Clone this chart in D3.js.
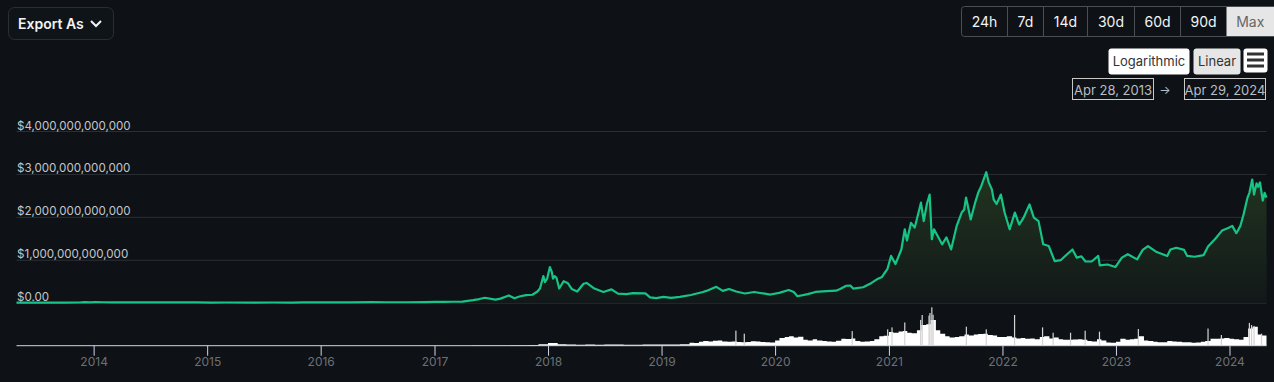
<!DOCTYPE html>
<html><head><meta charset="utf-8">
<script src="https://cdn.jsdelivr.net/npm/d3@7"></script>
<style>
html,body{margin:0;padding:0;background:#0e1216;}
svg{display:block;font-family:Inter,"Noto Sans",sans-serif;}
</style></head>
<body>
<svg id="c" width="1274" height="382"></svg>
<script>
// ---------- DATA ----------
const capDates = ["2013-04-28","2013-06-01","2013-08-01","2013-10-01","2013-11-15","2013-12-04","2013-12-20","2014-01-05","2014-02-01","2014-03-01","2014-04-15","2014-06-01","2014-08-01","2014-10-01","2014-12-01","2015-01-15","2015-03-01","2015-06-01","2015-08-01","2015-10-01","2015-11-05","2015-12-15","2016-02-01","2016-04-01","2016-06-15","2016-08-01","2016-10-01","2016-12-01","2017-01-01","2017-02-01","2017-03-01","2017-04-01","2017-05-05","2017-05-25","2017-06-12","2017-07-16","2017-08-01","2017-08-28","2017-09-15","2017-10-01","2017-10-22","2017-11-12","2017-11-28","2017-12-06","2017-12-17","2017-12-22","2017-12-29","2018-01-07","2018-01-13","2018-01-17","2018-01-22","2018-01-28","2018-02-06","2018-02-20","2018-03-05","2018-03-18","2018-04-05","2018-04-25","2018-05-05","2018-05-30","2018-06-28","2018-07-24","2018-08-14","2018-09-10","2018-10-01","2018-11-10","2018-11-25","2018-12-15","2019-01-07","2019-02-01","2019-03-01","2019-04-05","2019-05-14","2019-05-25","2019-06-26","2019-07-17","2019-08-06","2019-08-29","2019-09-26","2019-10-26","2019-12-17","2020-01-14","2020-02-14","2020-03-01","2020-03-13","2020-04-15","2020-05-10","2020-06-15","2020-07-15","2020-07-28","2020-08-17","2020-08-30","2020-09-08","2020-10-10","2020-11-06","2020-11-27","2020-12-10","2020-12-17","2020-12-27","2021-01-08","2021-01-22","2021-02-10","2021-02-21","2021-02-28","2021-03-13","2021-03-25","2021-04-01","2021-04-14","2021-04-23","2021-05-03","2021-05-12","2021-05-19","2021-05-26","2021-06-21","2021-07-05","2021-07-20","2021-08-07","2021-08-23","2021-08-31","2021-09-06","2021-09-21","2021-10-06","2021-10-15","2021-10-25","2021-11-10","2021-11-18","2021-11-28","2021-12-04","2021-12-13","2021-12-27","2022-01-08","2022-01-24","2022-02-10","2022-02-24","2022-03-10","2022-03-29","2022-04-12","2022-04-27","2022-05-12","2022-05-30","2022-06-18","2022-07-07","2022-07-28","2022-08-14","2022-08-28","2022-09-12","2022-09-25","2022-10-15","2022-11-05","2022-11-10","2022-12-05","2022-12-30","2023-01-20","2023-02-08","2023-03-10","2023-03-28","2023-04-14","2023-05-12","2023-06-15","2023-06-25","2023-07-14","2023-08-08","2023-08-18","2023-09-11","2023-10-10","2023-10-24","2023-11-15","2023-12-08","2023-12-28","2024-01-10","2024-01-23","2024-02-05","2024-02-15","2024-02-28","2024-03-05","2024-03-14","2024-03-20","2024-03-28","2024-04-02","2024-04-08","2024-04-17","2024-04-23","2024-04-29"];
// total market cap, billions USD
const capValues = [1.6,1.4,1.2,1.7,5,15,8,12,11,8,6,8,7.5,5.5,5.3,3.5,4.2,3.8,4.3,3.9,6.5,6.8,6.8,7.6,12.5,10.5,11,12.5,17.7,18.5,22,25,60,85,115,70,95,170,105,145,175,185,260,330,620,480,560,830,720,560,620,580,330,500,460,320,260,440,460,330,250,310,210,200,225,215,125,105,135,112,135,180,250,275,370,275,320,260,215,250,190,230,295,250,150,200,250,270,280,320,395,400,330,360,460,560,600,680,780,1090,900,1240,1710,1450,1860,1750,1950,2330,1900,2300,2520,1480,1710,1360,1520,1240,1790,2100,2170,2450,1940,2350,2560,2720,3040,2800,2640,2400,2300,2520,2100,1710,2100,1820,1980,2290,1980,1900,1360,1320,970,990,1130,1240,1050,1080,960,960,1090,870,890,830,1050,1130,1010,1230,1320,1180,1090,1240,1280,1230,1090,1070,1110,1310,1480,1680,1740,1790,1620,1790,2050,2450,2560,2870,2520,2780,2700,2800,2380,2560,2450];

const volDates = ["2013-04-28","2013-10-01","2013-12-01","2014-03-01","2014-06-01","2015-01-01","2015-08-01","2016-01-01","2016-06-01","2016-12-01","2017-01-01","2017-03-01","2017-05-01","2017-06-01","2017-08-01","2017-09-01","2017-11-01","2017-12-01","2018-01-01","2018-02-01","2018-03-01","2018-04-01","2018-05-01","2018-06-01","2018-07-01","2018-08-01","2018-09-01","2018-10-01","2018-11-01","2018-12-01","2019-01-01","2019-02-01","2019-03-01","2019-04-01","2019-04-15","2019-05-01","2019-05-15","2019-06-01","2019-06-15","2019-07-01","2019-07-15","2019-08-01","2019-08-15","2019-09-01","2019-09-15","2019-10-01","2019-10-15","2019-11-01","2019-11-15","2019-12-01","2019-12-15","2020-01-01","2020-01-15","2020-02-01","2020-02-15","2020-03-01","2020-03-15","2020-04-01","2020-04-15","2020-05-01","2020-05-15","2020-06-01","2020-06-15","2020-07-01","2020-07-15","2020-08-01","2020-08-15","2020-09-01","2020-09-15","2020-10-01","2020-10-15","2020-11-01","2020-11-15","2020-12-01","2020-12-15","2021-01-01","2021-01-15","2021-02-01","2021-02-15","2021-03-01","2021-03-15","2021-04-01","2021-04-15","2021-05-01","2021-05-15","2021-06-01","2021-06-15","2021-07-01","2021-07-15","2021-08-01","2021-08-15","2021-09-01","2021-09-15","2021-10-01","2021-10-15","2021-11-01","2021-11-15","2021-12-01","2021-12-15","2022-01-01","2022-01-15","2022-02-01","2022-02-15","2022-03-01","2022-03-15","2022-04-01","2022-04-15","2022-05-01","2022-05-15","2022-06-01","2022-06-15","2022-07-01","2022-07-15","2022-08-01","2022-08-15","2022-09-01","2022-09-15","2022-10-01","2022-10-15","2022-11-01","2022-11-15","2022-12-01","2022-12-15","2023-01-01","2023-01-15","2023-02-01","2023-02-15","2023-03-01","2023-03-15","2023-04-01","2023-04-15","2023-05-01","2023-05-15","2023-06-01","2023-06-15","2023-07-01","2023-07-15","2023-08-01","2023-08-15","2023-09-01","2023-09-15","2023-10-01","2023-10-15","2023-11-01","2023-11-15","2023-12-01","2023-12-15","2024-01-01","2024-01-15","2024-02-01","2024-02-15","2024-03-01","2024-03-15","2024-04-01","2024-04-15"];
// total volume, billions USD
const volValues = [0.05,0.1,0.4,0.1,0.05,0.05,0.05,0.1,0.2,0.2,0.4,0.5,1.5,3,3,5,8,18,30,18,14,12,13,11,13,13,12,11,14,13,13,15,18,35,30,45,55,50,58,60,50,45,48,42,40,42,52,48,42,40,38,60,90,100,110,95,105,70,60,75,60,55,50,45,58,80,78,85,55,45,48,55,75,110,115,160,150,165,170,150,145,180,240,250,300,180,140,110,95,100,110,130,120,130,135,140,125,120,100,100,110,95,85,90,80,85,75,100,110,85,95,75,70,70,72,75,70,55,50,75,60,38,35,45,80,70,75,80,110,60,55,45,40,40,55,50,45,40,40,35,38,45,55,80,80,85,90,80,75,70,100,200,220,130,120];

const spikeDates = ["2019-08-28","2019-09-24","2020-09-05","2020-12-28","2021-01-11","2021-02-21","2021-04-13","2021-04-18","2021-05-10","2021-05-13","2021-05-19","2021-05-23","2021-09-07","2021-11-10","2022-02-09","2022-05-10","2022-06-13","2022-08-08","2022-09-24","2022-11-09","2023-03-14","2023-10-24","2023-12-06","2024-03-05","2024-03-12","2024-03-20","2024-04-13"];
const spikeValues = [175,140,170,190,213,270,300,357,350,380,446,360,221,190,357,213,151,151,174,163,194,200,124,265,240,230,140];

const yTicks = [0,1000,2000,3000,4000];
const yTickLabels = ["$0.00","$1,000,000,000,000","$2,000,000,000,000","$3,000,000,000,000","$4,000,000,000,000"];
const xTickYears = [2014,2015,2016,2017,2018,2019,2020,2021,2022,2023,2024];
const rangeButtons = ["24h","7d","14d","30d","60d","90d","Max"];
const scaleButtons = ["Logarithmic","Linear"];
const dateRange = ["Apr 28, 2013","Apr 29, 2024"];

// ---------- SETUP ----------
const toUTC = s => new Date(s + "T00:00:00Z");
const endDate = toUTC("2024-04-29");
const svg = d3.select("#c");
const left = 16.5, right = 1266.5;
const x = d3.scaleUtc().domain([toUTC("2013-04-28"), endDate]).range([left, right]);
const y = d3.scaleLinear().domain([0, 4000]).range([302.7, 131]);
const yv = d3.scaleLinear().domain([0, 500]).range([345.7, 302.7]);

const cap = capDates.map((d,i)=>({d:toUTC(d), v:capValues[i]}));
const vol = volDates.map((d,i)=>({d:toUTC(d), v:volValues[i]}));
vol.push({d:endDate, v:volValues[volValues.length-1]});
const spikes = spikeDates.map((d,i)=>({d:toUTC(d), v:spikeValues[i]}));

// gradient
const defs = svg.append("defs");
const grad = defs.append("linearGradient").attr("id","ag").attr("gradientUnits","userSpaceOnUse")
  .attr("x1",0).attr("x2",0).attr("y1",170).attr("y2",303);
grad.append("stop").attr("offset",0).attr("stop-color","#223520");
grad.append("stop").attr("offset",1).attr("stop-color","#121819");

// y grid + labels
const yAxis = d3.axisRight(y).tickValues(yTicks).tickSize(right-left)
  .tickFormat((d,i)=>yTickLabels[i]);
const gy = svg.append("g").attr("transform",`translate(${left},0)`).call(yAxis);
gy.select(".domain").remove();
gy.selectAll(".tick line").attr("stroke","#2b2f35").attr("stroke-width",1);
gy.selectAll(".tick text").attr("x",0.5).attr("dy","-2").attr("text-anchor","start")
  .attr("fill","#c3c7cc").style("font-size","11.6px").style("font-family","Inter");

// area + line
const area = d3.area().x(d=>x(d.d)).y0(y(0)).y1(d=>y(d.v));
svg.append("path").datum(cap).attr("d",area).attr("fill","url(#ag)");
const line = d3.line().x(d=>x(d.d)).y(d=>y(d.v));
svg.append("path").datum(cap).attr("d",line).attr("fill","none").attr("stroke","#17c486")
  .attr("stroke-width",2.2).attr("stroke-linejoin","round");

// volume (daily-bar look as stepped area)
const varea = d3.area().curve(d3.curveStepAfter).x(d=>x(d.d)).y0(yv(0)).y1(d=>yv(d.v));
svg.append("path").datum(vol).attr("d",varea).attr("fill","#ffffff");
svg.append("g").selectAll("rect").data(spikes).join("rect")
  .attr("x",d=>x(d.d)-0.6).attr("width",1.2)
  .attr("y",d=>yv(d.v)).attr("height",d=>yv(0)-yv(d.v)).attr("fill","#d4d4d4");

// x axis
const xAxis = d3.axisBottom(x).tickValues(xTickYears.map(yy=>new Date(Date.UTC(yy,0,1))))
  .tickFormat(d3.utcFormat("%Y")).tickSize(10).tickPadding(2);
const gx = svg.append("g").attr("transform",`translate(0,${yv(0)})`).call(xAxis);
gx.select(".domain").attr("stroke","#ccd6eb").attr("d",`M${left},0H${right}`);
gx.selectAll(".tick line").attr("stroke","#ccd6eb");
gx.selectAll(".tick text").attr("fill","#6c7075").style("font-size","12px").style("font-family","Inter");

// ---------- UI ----------
svg.append("rect").attr("x",8.5).attr("y",7.5).attr("width",105).attr("height",32).attr("rx",6)
  .attr("fill","#0f1419").attr("stroke","#2a2f36");
svg.append("text").attr("x",18).attr("y",29).text("Export As").attr("fill","#f2f4f6")
  .style("font-size","14px").style("font-weight","600");
svg.append("path").attr("d","M91,21 L96,26 L101,21").attr("fill","none").attr("stroke","#f2f4f6").attr("stroke-width",2);

const rb = [961.5,1007.5,1043.5,1087.5,1134.5,1180.5,1226.5,1275];
svg.append("rect").attr("x",961.5).attr("y",6.5).attr("width",320).attr("height",30).attr("rx",3)
  .attr("fill","none").attr("stroke","#4a4f55");
rangeButtons.forEach((t,i)=>{
  const x0 = rb[i], x1 = rb[i+1];
  const last = i===rangeButtons.length-1;
  if(last){
    svg.append("rect").attr("x",x0).attr("y",7).attr("width",x1-x0).attr("height",29).attr("fill","#e6e6e6");
  } else if(i>0){
    svg.append("line").attr("x1",x0).attr("x2",x0).attr("y1",7).attr("y2",36).attr("stroke","#4a4f55");
  }
  svg.append("text").attr("x",(x0+Math.min(x1,1274))/2).attr("y",27).attr("text-anchor","middle")
    .text(t).attr("fill", last?"#666":"#f2f4f6").style("font-size","14px");
});

svg.append("rect").attr("x",1108.5).attr("y",48.5).attr("width",81).attr("height",26).attr("rx",3).attr("fill","#ffffff");
svg.append("text").attr("x",1149).attr("y",66).attr("text-anchor","middle").text(scaleButtons[0])
  .attr("fill","#333").style("font-size","13px");
svg.append("rect").attr("x",1193.5).attr("y",48.5).attr("width",47).attr("height",26).attr("rx",3).attr("fill","#e6e6e6");
svg.append("text").attr("x",1217).attr("y",66).attr("text-anchor","middle").text(scaleButtons[1])
  .attr("fill","#333").style("font-size","13px");
svg.append("rect").attr("x",1243.5).attr("y",48.5).attr("width",24).attr("height",24).attr("rx",3).attr("fill","#ffffff");
[54,60,66].forEach(yy=>svg.append("rect").attr("x",1247).attr("y",yy-1.5).attr("width",17).attr("height",3).attr("fill","#333"));

[[1072.5,81],[1184.5,81]].forEach((b,i)=>{
  svg.append("rect").attr("x",b[0]).attr("y",78.5).attr("width",b[1]).attr("height",21).attr("fill","none").attr("stroke","#c8c8c8");
  svg.append("text").attr("x",b[0]+b[1]/2).attr("y",95).attr("text-anchor","middle").text(dateRange[i])
    .attr("fill","#b9bdc2").style("font-size","13px");
});
svg.append("text").attr("x",1165).attr("y",94).attr("text-anchor","middle").text("→").attr("fill","#b9bdc2").style("font-size","12px");
</script>
</body></html>
